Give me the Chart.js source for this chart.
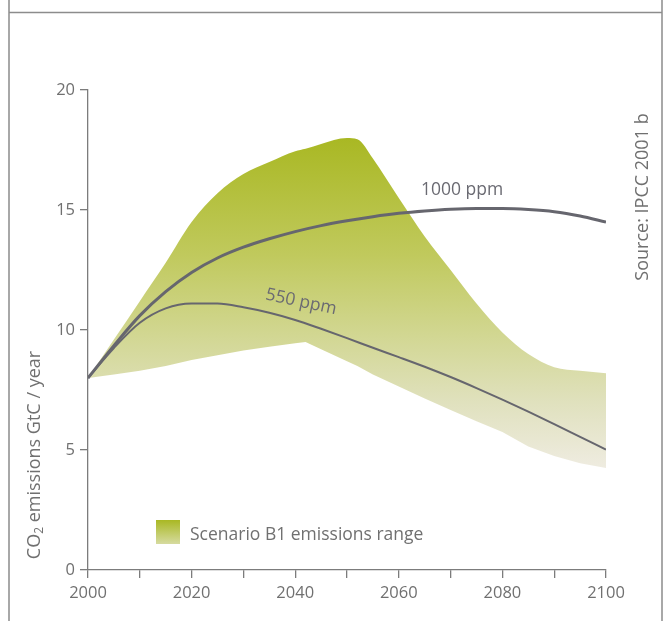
<!DOCTYPE html>
<html>
<head>
<meta charset="utf-8">
<script src="https://cdn.jsdelivr.net/npm/chart.js@4.4.1/dist/chart.umd.min.js"></script>
<style>
  html, body { margin: 0; padding: 0; background: #ffffff; }
  #wrap { width: 670px; height: 621px; }
</style>
</head>
<body>
<div id="wrap"><canvas id="c" width="670" height="621"></canvas></div>
<script>
// ---- data ----
const bandYears = [2000,2005,2010,2015,2020,2025,2030,2035,2040,2042,2045,2050,2052,2055,2060,2065,2070,2075,2080,2085,2090,2095,2100];
const bandHigh  = [8.0,9.6,11.2,12.8,14.5,15.7,16.5,17.0,17.45,17.55,17.75,18.0,17.95,17.15,15.5,13.9,12.5,11.1,9.9,9.0,8.45,8.3,8.2];
const bandLow   = [8.0,8.15,8.3,8.5,8.75,8.95,9.15,9.3,9.45,9.5,9.2,8.7,8.5,8.15,7.65,7.15,6.67,6.2,5.75,5.15,4.75,4.45,4.25];

const lineYears = [2000,2005,2010,2015,2020,2025,2030,2035,2040,2045,2050,2055,2060,2065,2070,2075,2080,2085,2090,2095,2100];
const ppm1000   = [8.0,9.35,10.6,11.6,12.4,13.0,13.45,13.8,14.1,14.35,14.55,14.72,14.86,14.96,15.03,15.06,15.06,15.02,14.93,14.75,14.5];
const ppm550    = [8.0,9.25,10.3,10.9,11.1,11.1,10.95,10.72,10.42,10.05,9.66,9.26,8.87,8.47,8.04,7.58,7.1,6.6,6.08,5.55,5.02];

const xTicks = [2000,2020,2040,2060,2080,2100];
const yTicks = [0,5,10,15,20];

const yAxisTitle = ["CO", "2", " emissions GtC / year"];
const sourceText = "Source: IPCC 2001 b";
const legendText = "Scenario B1 emissions range";
const label1000 = "1000 ppm";
const label550 = "550 ppm";

// ---- helpers ----
const pts = (xs, ys) => xs.map((x, i) => ({ x: x, y: ys[i] }));
const FONT = "'Open Sans', 'Noto Sans', sans-serif";
const TEXT = '#707070';
const AXIS = '#7c7c7c';
const LINE = '#66666e';

function bandGradient(ctx) {
  const chart = ctx.chart;
  const ys = chart.scales.y;
  if (!chart.chartArea || !ys) return 'rgba(190,200,90,0.8)';
  const g = chart.ctx.createLinearGradient(0, ys.getPixelForValue(18), 0, ys.getPixelForValue(4.2));
  g.addColorStop(0, '#a9b823');
  g.addColorStop(0.35, '#c0c95c');
  g.addColorStop(0.6, '#d2d793');
  g.addColorStop(0.8, '#e0e1be');
  g.addColorStop(1, '#efece1');
  return g;
}

const decor = {
  id: 'decor',
  beforeDraw(chart) {
    const c = chart.ctx;
    c.save();
    c.fillStyle = '#ffffff';
    c.fillRect(0, 0, chart.width, chart.height);
    c.strokeStyle = '#8c8c8c';
    c.lineWidth = 1.5;
    c.beginPath();
    c.moveTo(9, 0); c.lineTo(9, 621);
    c.moveTo(662, 0); c.lineTo(662, 621);
    c.moveTo(9, 12.5); c.lineTo(662, 12.5);
    c.stroke();
    c.restore();
  },
  afterDraw(chart) {
    const c = chart.ctx;
    c.save();
    c.fillStyle = TEXT;

    // y axis title, rotated, with subscript 2
    c.save();
    c.translate(35, 455);
    c.rotate(-Math.PI / 2);
    c.textBaseline = 'middle';
    const big = '18px ' + FONT, small = '12px ' + FONT;
    c.font = big; const w1 = c.measureText(yAxisTitle[0]).width;
    c.font = small; const w2 = c.measureText(yAxisTitle[1]).width;
    c.font = big; const w3 = c.measureText(yAxisTitle[2]).width;
    let sx = -(w1 + w2 + w3) / 2;
    c.textAlign = 'left';
    c.font = big; c.fillText(yAxisTitle[0], sx, 0); sx += w1;
    c.font = small; c.fillText(yAxisTitle[1], sx, 5); sx += w2;
    c.font = big; c.fillText(yAxisTitle[2], sx, 0);
    c.restore();

    // source text
    c.save();
    c.translate(643, 197);
    c.rotate(-Math.PI / 2);
    c.textAlign = 'center';
    c.textBaseline = 'middle';
    c.font = '18px ' + FONT;
    c.fillText(sourceText, 0, 0);
    c.restore();

    // line labels
    c.font = '17.5px ' + FONT;
    c.fillStyle = '#6a6a72';
    c.textAlign = 'center';
    c.textBaseline = 'middle';
    c.fillText(label1000, 462, 190);
    c.save();
    c.translate(301, 302);
    c.rotate(12 * Math.PI / 180);
    c.fillText(label550, 0, 0);
    c.restore();

    // legend
    const g = c.createLinearGradient(0, 520, 0, 544);
    g.addColorStop(0, '#a9b823');
    g.addColorStop(1, '#d6dba0');
    c.fillStyle = g;
    c.fillRect(156, 520, 24, 24);
    c.fillStyle = TEXT;
    c.textAlign = 'left';
    c.textBaseline = 'middle';
    c.font = '17.5px ' + FONT;
    c.fillText(legendText, 190, 535);
    c.restore();
  }
};

new Chart(document.getElementById('c'), {
  type: 'line',
  data: {
    datasets: [
      { label: '1000 ppm', data: pts(lineYears, ppm1000), borderColor: LINE, borderWidth: 3,
        pointRadius: 0, fill: false, cubicInterpolationMode: 'monotone', order: 0 },
      { label: '550 ppm', data: pts(lineYears, ppm550), borderColor: LINE, borderWidth: 2,
        pointRadius: 0, fill: false, cubicInterpolationMode: 'monotone', order: 1 },
      { label: 'B1 high', data: pts(bandYears, bandHigh), borderWidth: 0, borderColor: 'rgba(0,0,0,0)',
        backgroundColor: bandGradient, pointRadius: 0, fill: '+1', cubicInterpolationMode: 'monotone', order: 2 },
      { label: 'B1 low', data: pts(bandYears, bandLow), borderWidth: 0, borderColor: 'rgba(0,0,0,0)',
        pointRadius: 0, fill: false, tension: 0, order: 3 }
    ]
  },
  options: {
    responsive: false,
    animation: false,
    events: [],
    layout: { padding: { top: 90, right: 64, left: 0, bottom: 0 } },
    plugins: { legend: { display: false }, tooltip: { enabled: false }, title: { display: false } },
    font: { family: FONT },
    scales: {
      x: {
        type: 'linear', min: 2000, max: 2100,
        afterFit(s) { s.height = 51; },
        afterBuildTicks(s) {
          const t = [];
          for (let v = 2000; v <= 2100; v += 10) t.push({ value: v });
          s.ticks = t;
        },
        ticks: {
          autoSkip: false, maxRotation: 0, padding: 5, color: TEXT,
          font: { family: FONT, size: 16.5 },
          callback: v => xTicks.includes(v) ? String(v) : ''
        },
        grid: { drawOnChartArea: false, drawTicks: true, tickLength: 8, color: AXIS, tickColor: AXIS, lineWidth: 1.3 },
        border: { display: true, color: AXIS, width: 1.3 }
      },
      y: {
        min: 0, max: 20,
        afterFit(s) { s.width = 88; },
        afterBuildTicks(s) { s.ticks = yTicks.map(v => ({ value: v })); },
        ticks: { padding: 5, color: TEXT, font: { family: FONT, size: 16.5 } },
        grid: { drawOnChartArea: false, drawTicks: true, tickLength: 8, color: AXIS, tickColor: AXIS, lineWidth: 1.3 },
        border: { display: true, color: AXIS, width: 1.3 }
      }
    }
  },
  plugins: [decor]
});
</script>
</body>
</html>
